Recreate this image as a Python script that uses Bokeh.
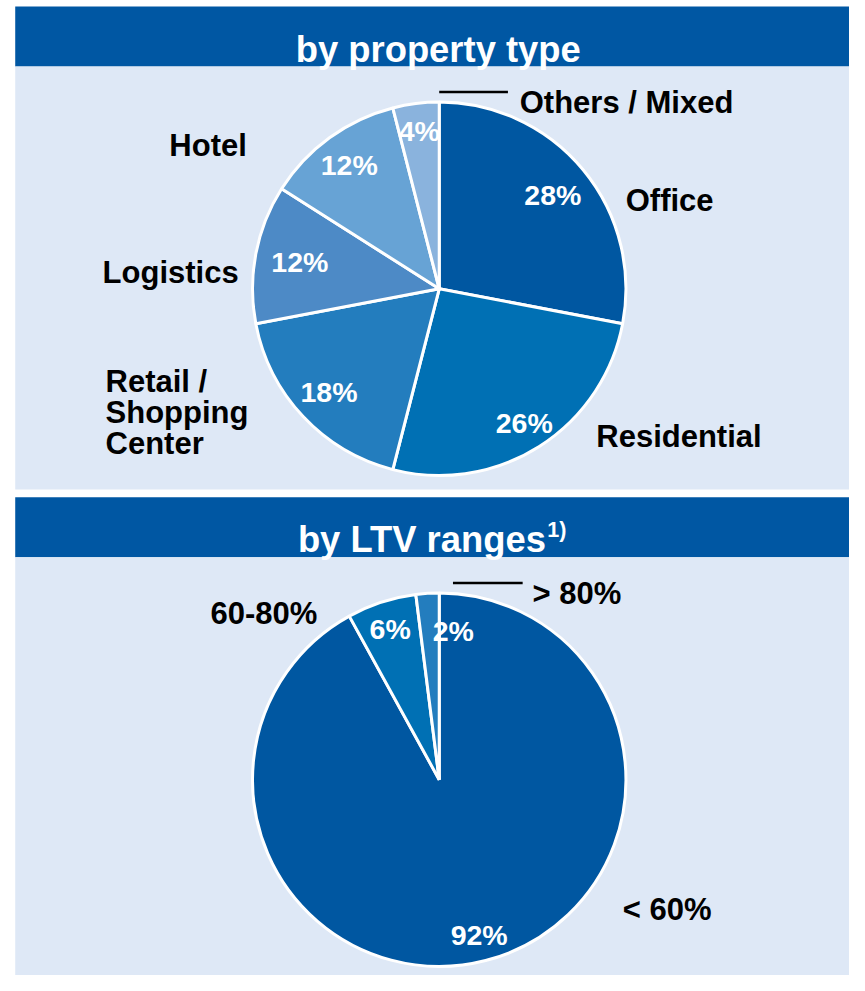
import math
from bokeh.plotting import figure
from bokeh.models import Range1d, ColumnDataSource
from bokeh.core.properties import value
from bokeh.embed import file_html
from bokeh.resources import INLINE

# ---------------- data ----------------
type_categories = ["Office", "Residential", "Retail /\nShopping\nCenter", "Logistics", "Hotel", "Others / Mixed"]
type_values = [28, 26, 18, 12, 12, 4]
type_colors = ["#0057A1", "#0070B4", "#237DBE", "#4D8AC6", "#67A3D5", "#8AB3DD"]

ltv_categories = ["< 60%", "60-80%", "> 80%"]
ltv_values = [92, 6, 2]
ltv_colors = ["#0057A1", "#0070B4", "#237DBE"]

titles = ["by property type", "by LTV ranges"]
footnote_mark = "1)"

# ---------------- layout ----------------
W, H = 849, 975
REF_W, REF_H = 865, 991          # layout designed on an 865x991 grid, scaled to fit
SX, SY = W / REF_W, H / REF_H
S = (SX + SY) / 2
FONT = value("Liberation Sans")
HEADER = "#0057A3"
PANEL = "#DEE8F6"


def X(x):
    return x * SX


def Y(y):  # grid y (downwards) -> data y (upwards)
    return H - y * SY


def fs(px):
    return f"{px * S:.1f}px"


p = figure(width=W, height=H, output_backend="svg", toolbar_location=None,
           x_range=Range1d(0, W), y_range=Range1d(0, H),
           min_border=0, background_fill_color="white", border_fill_color="white")
p.axis.visible = False
p.grid.visible = False
p.outline_line_color = None

# panels and headers
p.quad(left=[X(15)] * 4, right=[X(870)] * 4,
       top=[Y(6), Y(67), Y(505), Y(566)], bottom=[Y(67), Y(497), Y(566), Y(1000)],
       fill_color=[HEADER, PANEL, HEADER, PANEL], line_color=None)

# header titles
p.text(x=[X(446)], y=[Y(50)], text=[titles[0]], text_font=FONT, text_font_style="bold",
       text_font_size=fs(37), text_color="white", text_align="center", text_baseline="alphabetic")
p.text(x=[X(303)], y=[Y(548)], text=[titles[1]], text_font=FONT, text_font_style="bold",
       text_font_size=fs(37), text_color="white", text_align="left", text_baseline="alphabetic")
p.text(x=[X(557)], y=[Y(538)], text=[footnote_mark], text_font=FONT, text_font_style="bold",
       text_font_size=fs(22), text_color="white", text_align="left", text_baseline="alphabetic")


def draw_pie(cx, cy, r, vals, colors, lab_frac, lab_shift_deg):
    total = float(sum(vals))
    starts, ends, lx, ly, txt = [], [], [], [], []
    cum = 0.0
    for v, f, sh in zip(vals, lab_frac, lab_shift_deg):
        a0 = math.pi / 2 - cum / total * 2 * math.pi
        a1 = math.pi / 2 - (cum + v) / total * 2 * math.pi
        starts.append(a0)
        ends.append(a1)
        mid = (a0 + a1) / 2 - math.radians(sh)
        lx.append(cx + f * r * math.cos(mid))
        ly.append(cy + f * r * math.sin(mid))
        txt.append(f"{v}%")
        cum += v
    src = ColumnDataSource(dict(start=starts, end=ends, color=colors))
    p.wedge(x=cx, y=cy, radius=r, start_angle="start", end_angle="end", direction="clock",
            fill_color="color", line_color="white", line_width=3, source=src)
    p.text(x=lx, y=ly, text=txt, text_font=FONT, text_font_style="bold", text_font_size=fs(29),
           text_color="white", text_align="center", text_baseline="middle")


R = 190 * S
draw_pie(X(447), Y(293), R, type_values, type_colors,
         [0.79, 0.85, 0.81, 0.76, 0.82, 0.85], [0, 0, 0, 0, 0, 0])
draw_pie(X(447), Y(792), R, ltv_values, ltv_colors,
         [0.86, 0.85, 0.80], [0, 0, 9])


def draw_labels(cats, xs, baselines, spacing=31.5):
    lx, ly, lt = [], [], []
    for c, x, b in zip(cats, xs, baselines):
        for i, line in enumerate(c.split("\n")):
            lx.append(X(x))
            ly.append(Y(b + i * spacing))
            lt.append(line)
    p.text(x=lx, y=ly, text=lt, text_font=FONT, text_font_style="bold", text_font_size=fs(31.5),
           text_color="black", text_align="left", text_baseline="alphabetic")


draw_labels(type_categories, [637, 607, 107, 104, 172, 529], [203, 443, 387, 276, 147, 104])
draw_labels(ltv_categories, [634, 214, 542], [924, 623, 603])

# leader lines for the small slices
p.segment(x0=[X(447), X(461)], y0=[Y(93), Y(592)], x1=[X(517), X(532)], y1=[Y(93), Y(592)],
          line_color="black", line_width=2.5)

open("out.html", "w").write(file_html(p, INLINE))
